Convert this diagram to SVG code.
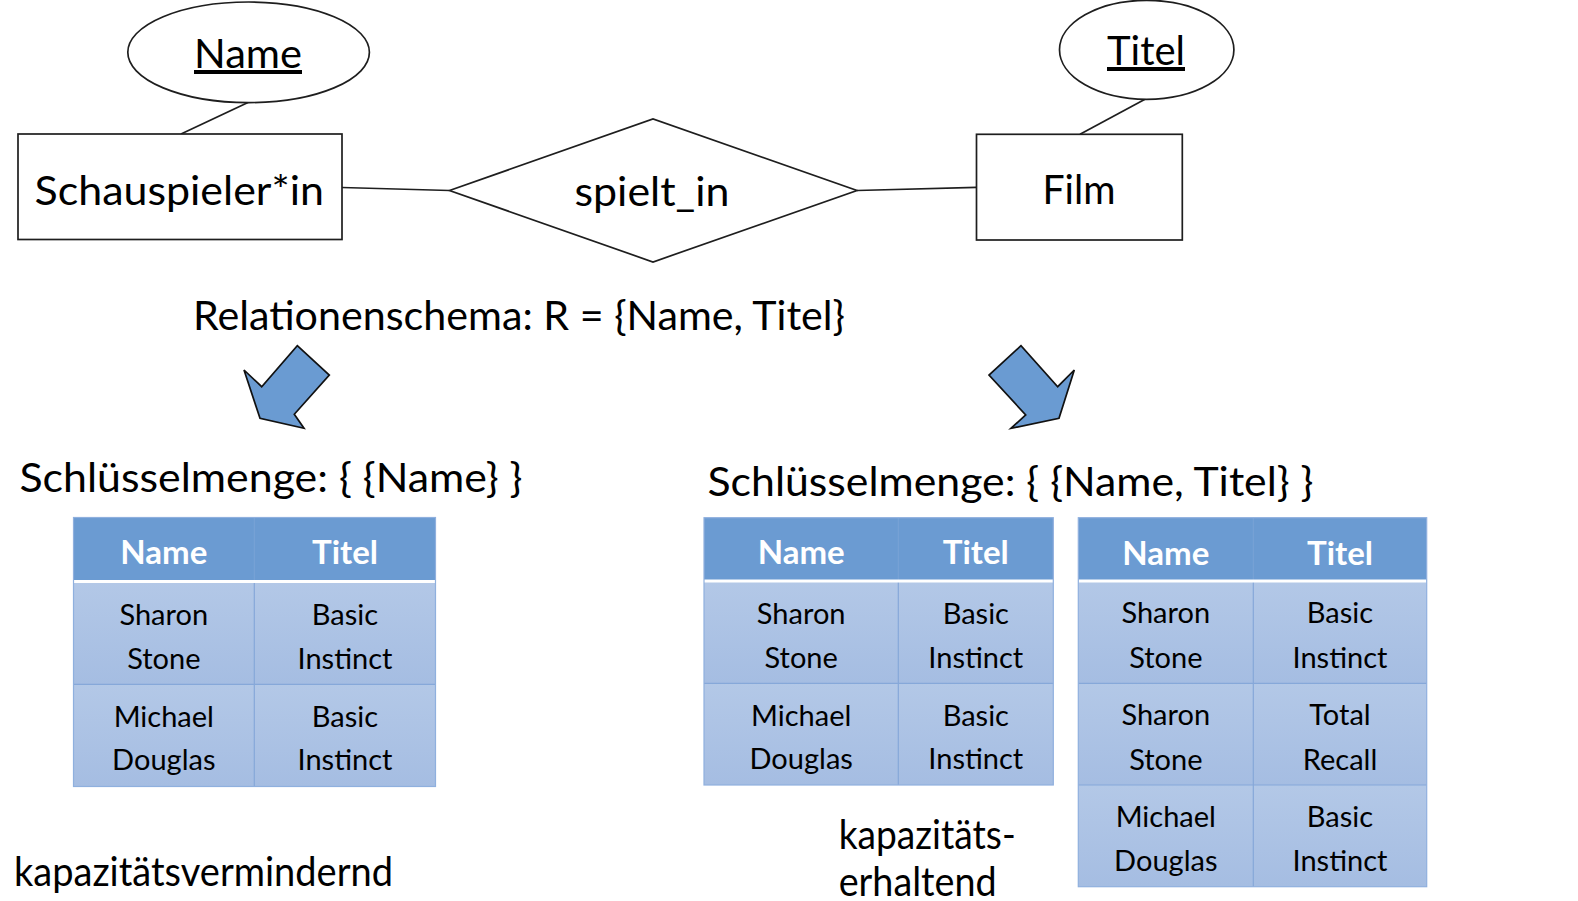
<svg xmlns="http://www.w3.org/2000/svg" width="1578" height="901" viewBox="0 0 1578 901">
<defs>
<style>
.shape{fill:#fff;stroke:#1e1e1e;stroke-width:1.7}
.conn{stroke:#1e1e1e;stroke-width:1.7;fill:none}
.t{font-family:Lato,"Liberation Sans",sans-serif;fill:#000}
.big{font-size:40px}
.mid{text-anchor:middle}
.cell{font-family:Lato,"Liberation Sans",sans-serif;font-size:29px;text-anchor:middle;fill:#000}
.hdr{font-family:Lato,"Liberation Sans",sans-serif;font-size:33px;font-weight:700;text-anchor:middle;fill:#fff}
.arrow{fill:#6a9bd2;stroke:#111;stroke-width:1.7;stroke-linejoin:miter}
.hfill{fill:#6b9bd2}
.r1{fill:url(#rowg)}
.grid{stroke:#86a8d9;stroke-width:1.2;fill:none}
.hgrid{stroke:#7aa3d6;stroke-width:1;fill:none}
.sep{stroke:#fff;stroke-width:3}
.outer{fill:none;stroke:#8fb0de;stroke-width:1.2}
</style>
<linearGradient id="rowg" x1="0" y1="0" x2="0" y2="1">
<stop offset="0" stop-color="#b3c8e7"/>
<stop offset="1" stop-color="#a5bde2"/>
</linearGradient>
</defs>
<rect width="1578" height="901" fill="#fff"/>

<g id="connectors">
<line class="conn" x1="248" y1="102.5" x2="181" y2="134"/>
<line class="conn" x1="342" y1="187.5" x2="449.5" y2="190.5"/>
<line class="conn" x1="857" y1="190.5" x2="976.5" y2="187.3"/>
<line class="conn" x1="1145" y1="99.3" x2="1080" y2="134.3"/>
</g>

<g id="attr-name">
<ellipse class="shape" cx="248.6" cy="52.3" rx="120.8" ry="50.3"/>
<text class="t big mid" x="248" y="68" text-decoration="underline" textLength="108" lengthAdjust="spacingAndGlyphs">Name</text>
</g>

<g id="entity-schauspieler">
<rect class="shape" x="18" y="134" width="324" height="105.5"/>
<text class="t big" x="34.5" y="205" textLength="289.5" lengthAdjust="spacingAndGlyphs">Schauspieler*in</text>
</g>

<g id="rel-spielt-in">
<polygon class="shape" points="449.5,190.5 653,119 857,190.5 653,262"/>
<text class="t big mid" x="652" y="206" textLength="155" lengthAdjust="spacingAndGlyphs">spielt_in</text>
</g>

<g id="entity-film">
<rect class="shape" x="976.5" y="134.3" width="205.8" height="105.7"/>
<text class="t big mid" x="1079" y="204" textLength="73" lengthAdjust="spacingAndGlyphs">Film</text>
</g>

<g id="attr-titel">
<ellipse class="shape" cx="1146.7" cy="49.8" rx="87.2" ry="49.5"/>
<text class="t big mid" x="1146" y="65" text-decoration="underline" textLength="78" lengthAdjust="spacingAndGlyphs">Titel</text>
</g>

<g id="schema-label">
<text class="t big" x="193" y="330" textLength="652" lengthAdjust="spacingAndGlyphs">Relationenschema: R = {Name, Titel}</text>
</g>

<g id="arrow-left">
<polygon class="arrow" points="297.3,345.7 329.3,375 294.3,414.3 304,428.3 260,418.3 244,370 261.7,386.7"/>
</g>
<g id="arrow-right">
<polygon class="arrow" points="1021,345.7 989,375 1025.7,415 1011,428.3 1059,418.3 1074.3,370 1057.7,386.7"/>
</g>

<g id="key-left">
<text class="t big" x="19.5" y="492" textLength="503" lengthAdjust="spacingAndGlyphs">Schlüsselmenge: { {Name} }</text>
</g>
<g id="key-right">
<text class="t big" x="707.5" y="496" textLength="606" lengthAdjust="spacingAndGlyphs">Schlüsselmenge: { {Name, Titel} }</text>
</g>

<g id="table-left">
<rect class="hfill" x="73.5" y="517.5" width="362" height="64"/>
<rect class="r1" x="73.5" y="581.5" width="362" height="102.8"/>
<rect class="r1" x="73.5" y="684.3" width="362" height="102.2"/>
<line class="hgrid" x1="254.3" y1="517.5" x2="254.3" y2="581.5"/>
<line class="grid" x1="254.3" y1="581.5" x2="254.3" y2="786.5"/>
<line class="grid" x1="73.5" y1="684.3" x2="435.5" y2="684.3"/>
<line class="sep" x1="73.5" y1="581.5" x2="435.5" y2="581.5"/>
<rect class="outer" x="73.5" y="517.5" width="362" height="269"/>
<text class="hdr" x="163.8" y="564">Name</text>
<text class="hdr" x="345" y="564">Titel</text>
<text class="cell" x="163.8" y="624.5">Sharon<tspan x="163.8" y="668.8">Stone</tspan></text>
<text class="cell" x="345" y="624.5">Basic<tspan x="345" y="668.8">Instinct</tspan></text>
<text class="cell" x="163.8" y="727">Michael<tspan x="163.8" y="770">Douglas</tspan></text>
<text class="cell" x="345" y="727">Basic<tspan x="345" y="770">Instinct</tspan></text>
</g>

<g id="table-middle">
<rect class="hfill" x="704" y="517.7" width="349.3" height="63.3"/>
<rect class="r1" x="704" y="581" width="349.3" height="102.3"/>
<rect class="r1" x="704" y="683.3" width="349.3" height="101.7"/>
<line class="hgrid" x1="898.3" y1="517.7" x2="898.3" y2="581"/>
<line class="grid" x1="898.3" y1="581" x2="898.3" y2="785"/>
<line class="grid" x1="704" y1="683.3" x2="1053.3" y2="683.3"/>
<line class="sep" x1="704" y1="581" x2="1053.3" y2="581"/>
<rect class="outer" x="704" y="517.7" width="349.3" height="267.3"/>
<text class="hdr" x="801.2" y="564">Name</text>
<text class="hdr" x="975.8" y="564">Titel</text>
<text class="cell" x="801.2" y="624">Sharon<tspan x="801.2" y="668.2">Stone</tspan></text>
<text class="cell" x="975.8" y="624">Basic<tspan x="975.8" y="668.2">Instinct</tspan></text>
<text class="cell" x="801.2" y="725.5">Michael<tspan x="801.2" y="769">Douglas</tspan></text>
<text class="cell" x="975.8" y="725.5">Basic<tspan x="975.8" y="769">Instinct</tspan></text>
</g>

<g id="table-right">
<rect class="hfill" x="1078.3" y="517.7" width="348.4" height="63.3"/>
<rect class="r1" x="1078.3" y="581" width="348.4" height="102.3"/>
<rect class="r1" x="1078.3" y="683.3" width="348.4" height="101.7"/>
<rect class="r1" x="1078.3" y="785" width="348.4" height="101.7"/>
<line class="hgrid" x1="1253.3" y1="517.7" x2="1253.3" y2="581"/>
<line class="grid" x1="1253.3" y1="581" x2="1253.3" y2="886.7"/>
<line class="grid" x1="1078.3" y1="683.3" x2="1426.7" y2="683.3"/>
<line class="grid" x1="1078.3" y1="785" x2="1426.7" y2="785"/>
<line class="sep" x1="1078.3" y1="581" x2="1426.7" y2="581"/>
<rect class="outer" x="1078.3" y="517.7" width="348.4" height="369"/>
<text class="hdr" x="1165.8" y="564.5">Name</text>
<text class="hdr" x="1340" y="564.5">Titel</text>
<text class="cell" x="1165.8" y="623">Sharon<tspan x="1165.8" y="667.8">Stone</tspan></text>
<text class="cell" x="1340" y="623">Basic<tspan x="1340" y="667.8">Instinct</tspan></text>
<text class="cell" x="1165.8" y="724.8">Sharon<tspan x="1165.8" y="769.5">Stone</tspan></text>
<text class="cell" x="1340" y="724.8">Total<tspan x="1340" y="769.5">Recall</tspan></text>
<text class="cell" x="1165.8" y="827.2">Michael<tspan x="1165.8" y="870.5">Douglas</tspan></text>
<text class="cell" x="1340" y="827.2">Basic<tspan x="1340" y="870.5">Instinct</tspan></text>
</g>

<g id="label-left">
<text class="t big" x="14" y="886" textLength="379" lengthAdjust="spacingAndGlyphs">kapazitätsvermindernd</text>
</g>
<g id="label-right">
<text class="t big" x="838.7" y="848.5" textLength="177" lengthAdjust="spacingAndGlyphs">kapazitäts-</text>
<text class="t big" x="838.7" y="895.5" textLength="158" lengthAdjust="spacingAndGlyphs">erhaltend</text>
</g>
</svg>
